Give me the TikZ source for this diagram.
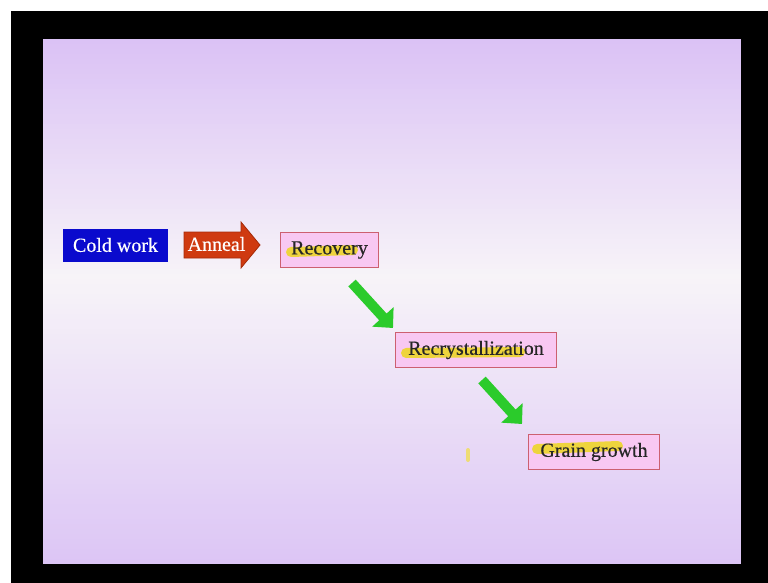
\documentclass[tikz,border=0pt]{standalone}
\usepackage{fontspec}
\setmainfont{Liberation Serif}
\usetikzlibrary{arrows.meta}

\definecolor{slidetop}{HTML}{DBC2F5}
\definecolor{slidemid}{HTML}{F7F4F8}
\definecolor{slidebot}{HTML}{DCC5F5}
\definecolor{coldblue}{HTML}{0A0ACD}
\definecolor{annealred}{HTML}{CF3A10}
\definecolor{annealedge}{HTML}{A52A08}
\definecolor{stagepink}{HTML}{F8C8F2}
\definecolor{stageedge}{HTML}{CC6070}
\definecolor{stepgreen}{HTML}{2BCB2B}
\definecolor{hlyellow}{HTML}{EED62A}

\pgfdeclarelayer{boxes}
\pgfdeclarelayer{marks}
\pgfsetlayers{boxes,marks,main}

\tikzset{
  slidetext/.style={font=\fontsize{20}{24}\selectfont\addfontfeature{FakeBold=0.4}},
  coldbox/.style={slidetext, fill=coldblue, text=white, inner sep=0pt,
    minimum width=105pt, minimum height=33pt},
  stagebox/.style={slidetext, text=black!85, inner sep=0pt, minimum height=34pt},
  stagefill/.style={fill=stagepink, draw=stageedge, line width=1.1pt},
  greenarrow/.style={draw=stepgreen, line width=10pt,
    -{Triangle[width=28pt,length=15pt,fill=stepgreen]}},
  highlight/.style={draw=hlyellow, line cap=round, opacity=0.9},
}

\begin{document}
\begin{tikzpicture}[x=1pt,y=-1pt]
  \useasboundingbox (0,0) rectangle (768,583);
  \begin{pgfonlayer}{boxes}
    % page, dark frame and slide area with its vertical colour ramp
    \fill[white] (0,0) rectangle (768,583);
    \fill[black] (11,11) rectangle (768,583);
    \foreach \i in {0,...,104}{
      \pgfmathsetmacro{\ya}{39+5*\i}
      \pgfmathsetmacro{\yb}{min(564,\ya+5.6)}
      \pgfmathtruncatemacro{\up}{\ya<275 ? 1 : 0}
      \ifnum\up=1
        \pgfmathtruncatemacro{\mix}{(\ya-39)/236*100}
        \fill[slidemid!\mix!slidetop] (43,\ya) rectangle (741,\yb);
      \else
        \pgfmathtruncatemacro{\mix}{(564-\ya)/289*100}
        \fill[slidemid!\mix!slidebot] (43,\ya) rectangle (741,\yb);
      \fi
    }
  \end{pgfonlayer}

  % starting state
  \node[coldbox] (cold) at (115.5,245) {Cold work};

  % anneal block arrow
  \fill[annealred, draw=annealedge, line width=0.8pt]
    (184,232) -- (241,232) -- (241,222) -- (260,245) -- (241,268)
    -- (241,258) -- (184,258) -- cycle;
  \node[slidetext, text=white, inner sep=0pt] (anneal) at (216.5,244) {Anneal};

  % stages
  \node[stagebox, minimum width=97pt]  (recovery) at (329.5,250) {Recovery};
  \node[stagebox, minimum width=160pt] (recryst)  at (476,350)   {Recrystallization};
  \node[stagebox, minimum width=130pt] (growth)   at (594,452)   {Grain growth};

  \begin{pgfonlayer}{boxes}
    \foreach \n in {recovery,recryst,growth}
      \draw[stagefill] (\n.south west) rectangle (\n.north east);
  \end{pgfonlayer}

  % marker strokes under the stage names
  \begin{pgfonlayer}{marks}
    \draw[highlight, line width=10pt] (291,252) -- (353,250);
    \draw[highlight, line width=10pt] (406,353) -- (520,352);
    \draw[highlight, line width=10pt] (537,449) -- (618,446);
    \draw[draw=hlyellow!80!white, line width=4pt, line cap=round, opacity=0.8]
      (468,450) -- (468,460);
  \end{pgfonlayer}

  % green step arrows
  \coordinate (s1a) at (352,283);
  \coordinate (s1b) at (393,328);
  \coordinate (s2a) at (482,380);
  \coordinate (s2b) at (522,424);
  \draw[greenarrow] (s1a) -- (s1b);
  \draw[greenarrow] (s2a) -- (s2b);
\end{tikzpicture}
\end{document}
